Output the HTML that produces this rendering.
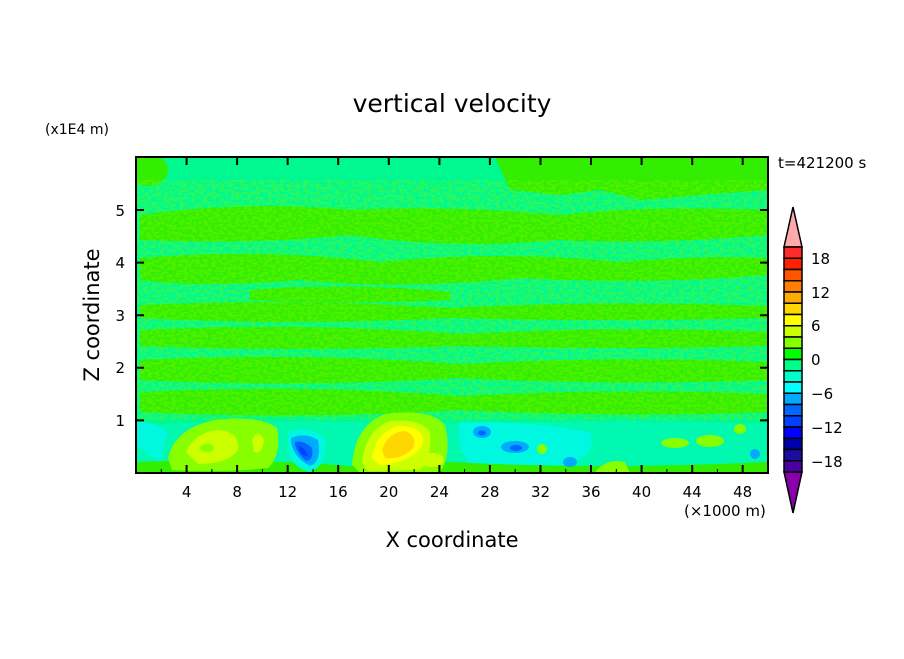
<!DOCTYPE html>
<html><head><style>
body{margin:0;background:#fff;}
svg text{font-family:"DejaVu Sans","Liberation Sans",sans-serif;fill:#000;}
</style></head><body>
<svg width="904" height="654" viewBox="0 0 904 654" xmlns="http://www.w3.org/2000/svg">
<defs>
<clipPath id="c"><rect x="136" y="157" width="632" height="316"/></clipPath>
<filter id="n" x="0" y="0" width="1" height="1">
<feTurbulence type="fractalNoise" baseFrequency="0.25 0.4" numOctaves="1" seed="3"/>
<feColorMatrix type="matrix" values="0 0 0 0 0.2  0 0 0 0 0.93  0 0 0 0 0  0 0 0 -12 6.5"/>
</filter>
</defs>
<rect width="904" height="654" fill="#fff"/>
<g clip-path="url(#c)">
<rect x="136" y="157" width="632" height="316" fill="#00f890"/>
<g fill="#33ee00">
<ellipse cx="148" cy="170" rx="20" ry="16"/>
<path d="M495 157 L768 157 L768 190 L700 195 L640 200 L600 190 L560 195 L510 190 Z"/>
<path d="M140 215 Q250 200 350 210 Q450 205 560 215 Q650 205 768 210 L768 235 Q650 245 560 240 Q450 250 350 235 Q250 245 140 240 Z"/>
<path d="M140 258 Q260 248 380 262 Q500 250 620 262 Q700 255 768 258 L768 275 Q650 285 520 278 Q400 290 300 280 Q200 288 140 280 Z"/>
<path d="M250 290 Q350 282 450 292 L450 300 Q350 305 250 300 Z"/>
<path d="M140 305 Q300 298 450 308 Q600 300 768 306 L768 318 Q600 322 450 318 Q300 326 140 318 Z"/>
<path d="M140 330 Q300 322 460 334 Q620 326 768 332 L768 346 Q620 350 460 346 Q300 352 140 346 Z"/>
<path d="M140 360 Q300 352 460 364 Q620 356 768 362 L768 380 Q620 386 460 378 Q300 388 140 380 Z"/>
<path d="M140 392 Q300 384 460 396 Q620 388 768 394 L768 412 Q620 418 460 410 Q300 420 140 412 Z"/>
</g>
<rect x="136" y="180" width="632" height="240" filter="url(#n)" opacity="0.35"/>
<!-- bottom layer -->
<path d="M136 425 Q300 418 460 424 Q620 418 768 424 L768 473 L136 473 Z" fill="#00f8b0"/>
<path d="M136 445 L136 422 Q150 420 168 432 L160 462 Z" fill="#00f8e0"/>
<path d="M460 422 Q520 420 590 432 Q600 455 560 468 L470 465 Q455 445 460 422 Z" fill="#00f8e0"/>
<path d="M136 462 Q250 458 350 466 L450 462 Q600 470 768 462 L768 473 L136 473 Z" fill="#33ee00"/>
<path d="M595 473 Q605 458 625 462 L630 473 Z" fill="#88ff00"/>
<!-- left warm blob -->
<path d="M168 458 Q175 428 215 420 Q260 415 277 428 Q282 455 268 468 Q220 473 172 470 Z" fill="#88ff00"/>
<path d="M186 452 Q195 432 218 430 Q240 432 238 450 Q228 464 198 464 Z" fill="#ccff00"/>
<path d="M252 440 Q258 428 264 440 Q262 455 254 452 Z" fill="#ccff00"/>
<ellipse cx="207" cy="448" rx="7" ry="4" fill="#88ff00"/>
<!-- blue blob -->
<path d="M288 432 Q310 425 325 438 Q328 465 310 472 Q290 468 288 445 Z" fill="#00f8e0"/>
<path d="M291 438 Q305 432 318 440 Q322 462 310 466 Q294 458 291 442 Z" fill="#00aaff"/>
<path d="M295 442 Q305 440 312 448 Q314 460 306 461 Q296 452 295 444 Z" fill="#0066ff"/>
<path d="M299 446 Q304 447 308 456 Q302 456 299 450 Z" fill="#0040ff"/>
<!-- large warm blob -->
<path d="M352 465 Q355 425 385 414 Q430 408 445 425 Q452 455 440 472 L360 473 Z" fill="#88ff00"/>
<path d="M362 462 Q366 430 390 421 Q420 418 430 432 Q432 460 420 470 L368 471 Z" fill="#ccff00"/>
<path d="M372 458 Q376 432 398 426 Q420 425 424 440 Q418 462 380 465 Z" fill="#ffff00"/>
<path d="M382 450 Q388 432 405 431 Q418 436 413 448 Q402 460 385 458 Z" fill="#ffd700"/>
<ellipse cx="432" cy="460" rx="12" ry="7" fill="#ccff00"/>
<!-- blue spots right -->
<ellipse cx="482" cy="432" rx="9" ry="6" fill="#00aaff"/><ellipse cx="482" cy="433" rx="4" ry="2.5" fill="#0066ff"/>
<ellipse cx="515" cy="447" rx="14" ry="6" fill="#00aaff"/><ellipse cx="516" cy="448" rx="6" ry="3" fill="#0066ff"/>
<ellipse cx="570" cy="462" rx="7" ry="5" fill="#00aaff"/>
<ellipse cx="542" cy="449" rx="5" ry="5" fill="#88ff00"/>
<ellipse cx="675" cy="443" rx="14" ry="5" fill="#88ff00"/>
<ellipse cx="710" cy="441" rx="14" ry="6" fill="#88ff00"/>
<ellipse cx="740" cy="429" rx="6" ry="5" fill="#88ff00"/>
<ellipse cx="755" cy="454" rx="5" ry="5" fill="#00aaff"/>
</g>
<rect x="136" y="157" width="632" height="316" fill="none" stroke="#000" stroke-width="2"/>
<g stroke="#000" stroke-width="2">
<path d="M186.6 473v-8M237.1 473v-8M287.7 473v-8M338.2 473v-8M388.8 473v-8M439.4 473v-8M489.9 473v-8M540.5 473v-8M591 473v-8M641.6 473v-8M692.2 473v-8M742.7 473v-8"/>
<path d="M186.6 157v8M237.1 157v8M287.7 157v8M338.2 157v8M388.8 157v8M439.4 157v8M489.9 157v8M540.5 157v8M591 157v8M641.6 157v8M692.2 157v8M742.7 157v8"/>
<path d="M136 420.4h8M136 367.8h8M136 315.2h8M136 262.6h8M136 210h8M768 420.4h-8M768 367.8h-8M768 315.2h-8M768 262.6h-8M768 210h-8"/>
</g>
<g stroke="#000" stroke-width="1">
<path d="M161.3 473v-4M211.9 473v-4M262.4 473v-4M313 473v-4M363.5 473v-4M414.1 473v-4M464.6 473v-4M515.2 473v-4M565.8 473v-4M616.3 473v-4M666.9 473v-4M717.4 473v-4"/>
</g>
<g font-size="15" text-anchor="middle">
<text x="186.6" y="497">4</text><text x="237.1" y="497">8</text><text x="287.7" y="497">12</text><text x="338.2" y="497">16</text><text x="388.8" y="497">20</text><text x="439.4" y="497">24</text><text x="489.9" y="497">28</text><text x="540.5" y="497">32</text><text x="591" y="497">36</text><text x="641.6" y="497">40</text><text x="692.2" y="497">44</text><text x="742.7" y="497">48</text>
</g>
<g font-size="15" text-anchor="end">
<text x="125" y="426">1</text><text x="125" y="373">2</text><text x="125" y="321">3</text><text x="125" y="268">4</text><text x="125" y="216">5</text>
</g>
<text x="452" y="112" font-size="25" text-anchor="middle">vertical velocity</text>
<text x="452" y="547" font-size="21" text-anchor="middle">X coordinate</text>
<text transform="translate(99 315) rotate(-90)" font-size="21" text-anchor="middle">Z coordinate</text>
<text x="45" y="134" font-size="14">(x1E4 m)</text>
<text x="684" y="516" font-size="15">(×1000 m)</text>
<text x="778" y="168" font-size="15">t=421200 s</text>
<g stroke="#000" stroke-width="1.5">
<path d="M793 207 L802 247 L784 247 Z" fill="#ffaaaa"/>
<path d="M784 472 L802 472 L793 513 Z" fill="#8800aa"/>
<rect x="784" y="247" width="18" height="11.25" fill="#ff2a2a"/>
<rect x="784" y="258.25" width="18" height="11.25" fill="#ff2000"/>
<rect x="784" y="269.5" width="18" height="11.25" fill="#ff5500"/>
<rect x="784" y="280.75" width="18" height="11.25" fill="#ff7f00"/>
<rect x="784" y="292" width="18" height="11.25" fill="#ffaa00"/>
<rect x="784" y="303.25" width="18" height="11.25" fill="#ffd700"/>
<rect x="784" y="314.5" width="18" height="11.25" fill="#ffff00"/>
<rect x="784" y="325.75" width="18" height="11.25" fill="#ccff00"/>
<rect x="784" y="337" width="18" height="11.25" fill="#88ff00"/>
<rect x="784" y="348.25" width="18" height="11.25" fill="#00ff00"/>
<rect x="784" y="359.5" width="18" height="11.25" fill="#00ff88"/>
<rect x="784" y="370.75" width="18" height="11.25" fill="#00ffcc"/>
<rect x="784" y="382" width="18" height="11.25" fill="#00ffff"/>
<rect x="784" y="393.25" width="18" height="11.25" fill="#00aaff"/>
<rect x="784" y="404.5" width="18" height="11.25" fill="#0066ff"/>
<rect x="784" y="415.75" width="18" height="11.25" fill="#0040ff"/>
<rect x="784" y="427" width="18" height="11.25" fill="#0000ff"/>
<rect x="784" y="438.25" width="18" height="11.25" fill="#0000aa"/>
<rect x="784" y="449.5" width="18" height="11.25" fill="#1a0da0"/>
<rect x="784" y="460.75" width="18" height="11.25" fill="#4b00a0"/>
</g>
<g font-size="15">
<text x="811" y="264">18</text><text x="811" y="298">12</text><text x="811" y="331">6</text><text x="811" y="365">0</text><text x="811" y="399">−6</text><text x="811" y="433">−12</text><text x="811" y="467">−18</text>
</g>
</svg>
</body></html>
